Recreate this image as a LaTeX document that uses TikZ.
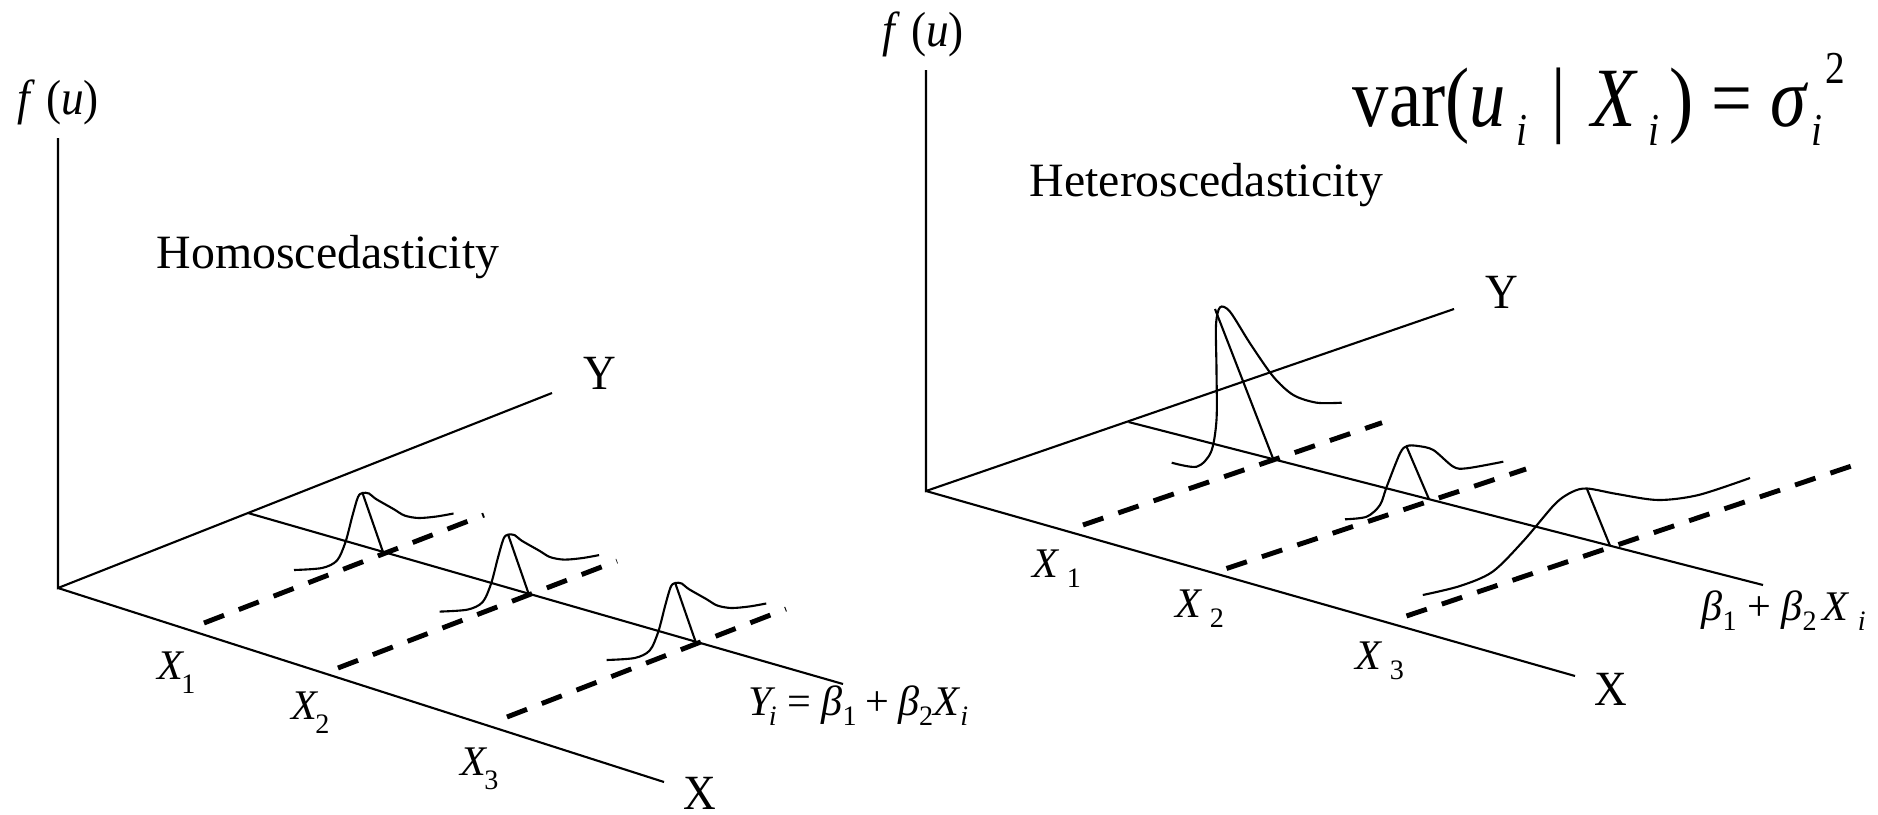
\documentclass[tikz,border=0pt]{standalone}
\usepackage{fontspec}
\setmainfont{Liberation Serif}
\newfontfamily\eqfont{Liberation Serif}[FakeStretch=0.92]
\newfontfamily\bigeqfont{Liberation Serif}[FakeStretch=0.86]
\usetikzlibrary{positioning}
\definecolor{ink}{HTML}{000000}

% lowered index, equation-editor style
\newcommand{\lo}[2][3pt]{\raisebox{-#1}{\fontsize{8}{9}\selectfont #2}}
\newcommand{\vsub}[1]{\raisebox{-5.5pt}{\fontsize{13}{14}\selectfont #1}}

\tikzset{
  axisline/.style = {draw=ink, line width=0.6pt},
  dashln/.style   = {draw=ink, line width=1.4pt, dash pattern=on 6.1pt off 4.5pt},
  dens/.style     = {draw=ink, line width=0.6pt},
  axlab/.style    = {inner sep=0, anchor=base west, font=\eqfont\fontsize{14}{16}\selectfont},
  xlab/.style     = {inner sep=0, anchor=base west, font=\fontsize{12}{14}\selectfont},
  heading/.style  = {inner sep=0, anchor=base west, font=\fontsize{13.6}{16}\selectfont},
}

% same bell curve, put on a foot point
\newcommand{\bell}[1]{%
  \draw[dens, shift={(#1)}] plot[smooth] coordinates {(-89,18) (-61,16) (-46,8.5)
    (-37.5,-10) (-30.5,-36.5) (-25,-55) (-20.5,-59) (-14,-58.5) (-7,-53) (10.5,-43)
    (21.5,-36.5) (35.5,-34) (53.5,-35.5) (70.5,-38.5)};}

\begin{document}
\begin{tikzpicture}[x=0.01cm, y=-0.01cm]
  \useasboundingbox (0,0) rectangle (1878,815);

  % ---- homoscedasticity ----
  \coordinate (oL) at (58,588);
  \coordinate (zL) at (58,138);
  \coordinate (yL) at (552,393);
  \coordinate (xL) at (664,782);
  \coordinate (rLa) at (248,513);
  \coordinate (rLb) at (843,684);
  \coordinate (fL1) at (383,552);
  \coordinate (fL2) at (528.6,593.6);
  \coordinate (fL3) at (695.7,642);
  \coordinate (dLa1) at (204,623);   \coordinate (dLb1) at (484,515);
  \coordinate (dLa2) at (338,668);   \coordinate (dLb2) at (617,561);
  \coordinate (dLa3) at (507,717);   \coordinate (dLb3) at (786,609);

  \draw[axisline] (zL) -- (oL) -- (yL);
  \draw[axisline] (oL) -- (xL);
  \draw[axisline] (rLa) -- (rLb);
  \draw[dashln] (dLa1) -- (dLb1);
  \draw[dashln] (dLa2) -- (dLb2);
  \draw[dashln] (dLa3) -- (dLb3);
  \foreach \f in {fL1,fL2,fL3}{
    \bell{\f}
    \coordinate (p\f) at ([shift={(-20.5,-59)}]\f);
    \draw[dens] (p\f) -- (\f);
  }

  \node[axlab] (fuL) at (17,114) {\textit{f}\kern3pt(\textit{u})};
  \node[axlab] (yLab) at (583,389) {Y};
  \node[axlab] (xLab) at (683,809) {X};
  \node[heading] (homo) at (156,268) {Homoscedasticity};
  \node[xlab] (xL1) at (157,679) {\textit{X}\kern-1pt\lo[4pt]{1}};
  \node[xlab] (xL2) at (291,719) {\textit{X}\kern-1pt\lo[4pt]{2}};
  \node[xlab] (xL3) at (460,775) {\textit{X}\kern-1pt\lo[4pt]{3}};
  \node[xlab] (regL) at (748,715) {\textit{Y}\kern-2pt\lo{\textit{i}}\kern3pt=\kern3pt%
    \textit{β}\lo{1}\kern2.5pt+\kern2.5pt\textit{β}\lo{2}\textit{X}\lo{\textit{i}}};

  % ---- heteroscedasticity ----
  \coordinate (oR) at (926,491);
  \coordinate (zR) at (926,70);
  \coordinate (yR) at (1454,309);
  \coordinate (xR) at (1575,676);
  \coordinate (rRa) at (1128.5,422);
  \coordinate (rRb) at (1763,585);
  \coordinate (fR1) at (1273.3,459.2);
  \coordinate (fR2) at (1429,499.2);
  \coordinate (fR3) at (1610,545.7);
  \coordinate (pR1) at (1215,309);
  \coordinate (pR2) at (1406.5,446.5);
  \coordinate (pR3) at (1587,489);
  \coordinate (dRa1) at (1083,525);    \coordinate (dRb1) at (1382,422.7);
  \coordinate (dRa2) at (1226.5,568.5); \coordinate (dRb2) at (1526,469);
  \coordinate (dRa3) at (1406.5,616);  \coordinate (dRb3) at (1851.5,466);

  \draw[axisline] (zR) -- (oR) -- (yR);
  \draw[axisline] (oR) -- (xR);
  \draw[axisline] (rRa) -- (rRb);
  \draw[dashln] (dRa1) -- (dRb1);
  \draw[dashln] (dRa2) -- (dRb2);
  \draw[dashln] (dRa3) -- (dRb3);
  \draw[dens] plot[smooth] coordinates {(1171.7,462.7) (1196.7,466.7) (1211,452)
    (1216.5,420) (1216.5,370) (1216,325) (1220,307.3) (1230,311.7) (1250,343.3)
    (1273.3,376.7) (1293.3,395) (1316.7,402.7) (1341.7,402.7)};
  \draw[dens] plot[smooth] coordinates {(1345,519.3) (1366.7,516.7) (1380,505)
    (1386.7,486.7) (1400,453.3) (1407,446) (1418,446) (1433.3,450) (1453.3,466.7)
    (1466.7,468.3) (1503.3,461.7)};
  \draw[dens] plot[smooth] coordinates {(1422.8,595) (1460,586) (1492.6,571.7)
    (1523.8,540.5) (1555,504) (1572,492) (1587,488.5) (1617,494) (1658,500)
    (1698.5,495) (1750,478)};
  \draw[dens] (pR1) -- (fR1);
  \draw[dens] (pR2) -- (fR2);
  \draw[dens] (pR3) -- (fR3);

  \node[axlab] (fuR) at (882,46) {\textit{f}\kern3pt(\textit{u})};
  \node[axlab] (yRab) at (1485,308) {Y};
  \node[axlab] (xRab) at (1594,705) {X};
  \node[heading] (hetero) at (1029,196) {Heteroscedasticity};
  \node[xlab] (xR1) at (1032,577) {\textit{X}\kern2pt\lo[3pt]{1}};
  \node[xlab] (xR2) at (1175,617) {\textit{X}\kern2pt\lo[3pt]{2}};
  \node[xlab] (xR3) at (1355,669) {\textit{X}\kern2pt\lo[3pt]{3}};
  \node[xlab] (regR) at (1701,620) {\textit{β}\lo{1}\kern3pt+\kern3pt%
    \textit{β}\lo{2}\kern1.5pt\textit{X}\kern2.5pt\lo{\textit{i}}};
  \node[inner sep=0, anchor=base west, font=\bigeqfont\fontsize{24}{28}\selectfont]
    (varf) at (1352,126) {var(\textit{u}\kern3pt\vsub{\textit{i}}\kern7pt|\kern7pt%
    \textit{X}\kern3pt\vsub{\textit{i}}\kern3pt)\kern5pt=\kern5pt\textit{σ}%
    \rlap{\kern1pt\vsub{\textit{i}}}\kern5pt\raisebox{12pt}{\fontsize{13}{14}\selectfont 2}};
\end{tikzpicture}
\end{document}
